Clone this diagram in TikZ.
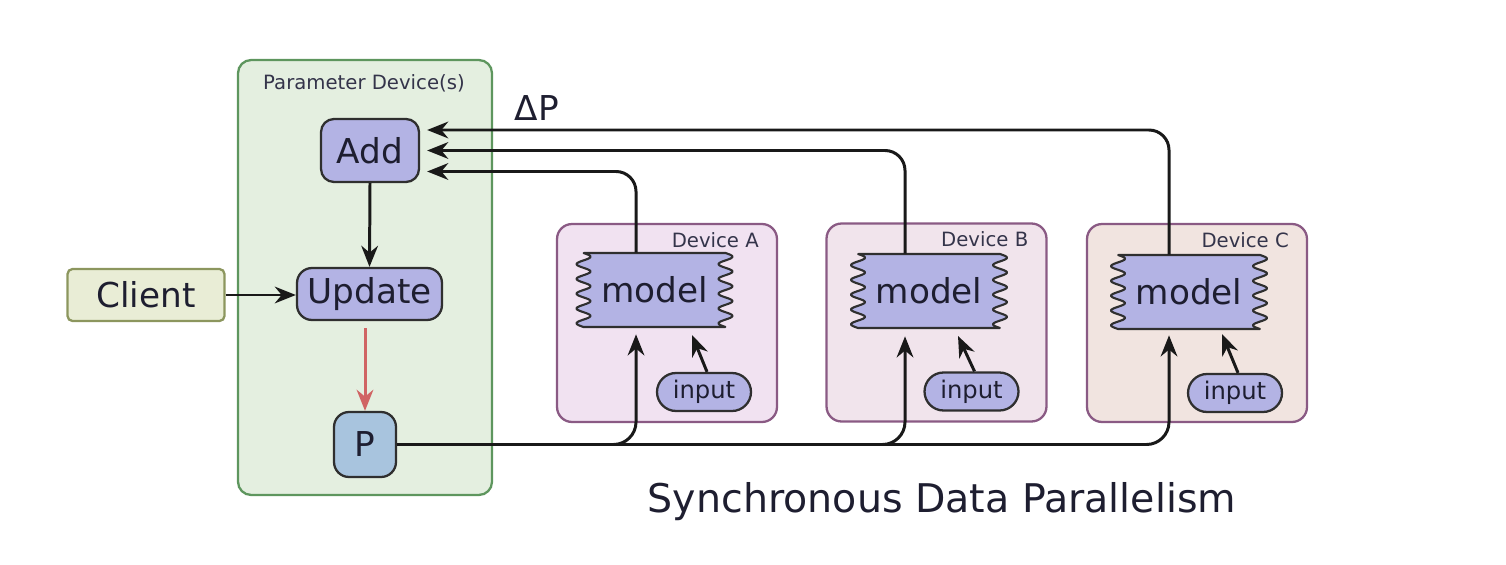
\documentclass[tikz,border=0pt]{standalone}
\usepackage{fontspec}
\setmainfont{DejaVu Sans}
\usetikzlibrary{arrows.meta}
\pgfdeclarelayer{bg}\pgfdeclarelayer{mid}\pgfsetlayers{bg,mid,main}
\definecolor{paramfill}{HTML}{E4EFE0}
\definecolor{paramline}{HTML}{5E965E}
\definecolor{lav}{HTML}{B3B3E4}
\definecolor{pblue}{HTML}{A8C4DE}
\definecolor{clientfill}{HTML}{E9EDD6}
\definecolor{clientline}{HTML}{8C965E}
\definecolor{devAfill}{HTML}{F1E2F1}
\definecolor{devBfill}{HTML}{F1E4EC}
\definecolor{devCfill}{HTML}{F1E4E0}
\definecolor{devline}{HTML}{8A5A84}
\definecolor{redc}{HTML}{D06464}
\definecolor{nodeline}{HTML}{2F2F2F}
\definecolor{txt}{HTML}{1E1E30}
\definecolor{lbl}{HTML}{34344A}
\newcommand\fsBig{\fontsize{19.5}{23}\selectfont}
\newcommand\fsMid{\fontsize{13.8}{16}\selectfont}
\newcommand\fsSmall{\fontsize{11.2}{13}\selectfont}
\newcommand\fsTitle{\fontsize{22.5}{27}\selectfont}
\begin{document}
\begin{tikzpicture}[x=0.02cm,y=-0.02cm,
  box/.style={draw=nodeline, line width=1.3pt, fill=lav, rounded corners=0.26cm,
    inner sep=0pt, font=\fsBig, text=txt},
  modeltext/.style={font=\fsBig, text=txt, minimum width=3.0cm, minimum height=1.48cm, inner sep=0pt},
  modelshape/.style={draw=nodeline, line width=1.2pt, fill=lav, line join=round},
  inbox/.style={box, font=\fsMid, minimum width=1.88cm, minimum height=0.76cm, rounded corners=0.38cm},
  devbox/.style={draw=devline, line width=1.3pt, rounded corners=0.3cm,
    minimum width=4.4cm, minimum height=3.96cm, inner sep=0pt},
  devlabel/.style={font=\fsSmall, text=lbl, inner sep=0pt, anchor=north east},
  conn/.style={line width=1.7pt, color=black!90, -{Stealth[length=12pt,width=9.5pt]}}
]
\useasboundingbox (0,0) rectangle (1506,564);

% containers
\begin{pgfonlayer}{bg}
\node[draw=paramline, fill=paramfill, line width=1.3pt, rounded corners=0.26cm,
  minimum width=5.08cm, minimum height=8.7cm, inner sep=0pt] (param) at (365,277.5) {};
\node[devbox, fill=devAfill] (devA) at (667,323) {};
\node[devbox, fill=devBfill] (devB) at (936.5,322.5) {};
\node[devbox, fill=devCfill] (devC) at (1197,323) {};
\end{pgfonlayer}

\node[font=\fsSmall, text=lbl, inner sep=0pt] (plabel) at (364,83) {Parameter Device(s)};
\node[devlabel] (labA) at ([xshift=-0.38cm,yshift=-0.18cm]devA.north east) {Device A};
\node[devlabel] (labB) at ([xshift=-0.38cm,yshift=-0.18cm]devB.north east) {Device B};
\node[devlabel] (labC) at ([xshift=-0.38cm,yshift=-0.18cm]devC.north east) {Device C};

% parameter device nodes
\node[box, minimum width=1.96cm, minimum height=1.26cm] (add) at (370,150.5) {Add};
\node[box, minimum width=2.9cm, minimum height=1.04cm, rounded corners=0.3cm] (upd) at (369.5,294) {Update};
\node[box, fill=pblue, minimum width=1.24cm, minimum height=1.3cm, rounded corners=0.3cm] (P) at (365,444.5) {P};
\node[box, fill=clientfill, draw=clientline, rounded corners=0.1cm,
  minimum width=3.14cm, minimum height=1.04cm] (client) at (146,295) {Client};

% models
\node[modeltext] (mA) at (654.5,290) {model};
\node[modeltext] (mB) at (929,291) {model};
\node[modeltext] (mC) at (1189,292) {model};
\begin{pgfonlayer}{mid}
\foreach \m in {mA,mB,mC}{
  \begin{scope}[shift={(\m.center)}, x=1cm, y=1cm]
  \path[modelshape] (-1.35,0.74) -- (1.35,0.74)
    -- plot[domain=0.74:-0.74, samples=91, variable=\t] ({1.42+0.14*sin(\t/0.296*360)}, \t)
    -- (-1.35,-0.74)
    -- plot[domain=-0.74:0.74, samples=91, variable=\t] ({-1.42+0.14*sin(\t/0.296*360)}, \t)
    -- cycle;
  \end{scope}
}
\end{pgfonlayer}

% inputs
\node[inbox] (inA) at (704,392) {input};
\node[inbox] (inB) at (971.5,391.5) {input};
\node[inbox] (inC) at (1235,393) {input};

% labels
\node[font=\fsBig, text=txt, inner sep=0pt] (dP) at (537,108) {ΔP};
\node[font=\fsTitle, text=txt, inner sep=0pt, anchor=base] (title) at (942,512) {Synchronous Data Parallelism};

% coordinates
\coordinate (vA) at (636,0);
\coordinate (vB) at (905,0);
\coordinate (vC) at (1169,0);
\coordinate (tA) at (692,335);
\coordinate (tB) at (958,336);
\coordinate (tC) at (1222,334);

% internal parameter flow
\draw[conn] (add.south) -- (upd.north);
\draw[conn] (client.east) -- (client.east -| upd.west);
\draw[conn, color=redc, shorten <=0.14cm] (P.north |- upd.south) -- (P.north);

% P to models
\draw[conn, rounded corners=0.45cm, shorten >=0.14cm] (P.east) -| (vA |- mA.south);
\draw[conn, rounded corners=0.45cm, shorten >=0.16cm] (P.east) -| (vB |- mB.south);
\draw[conn, rounded corners=0.45cm, shorten >=0.12cm] (P.east) -| (vC |- mC.south);

% models to Add
\draw[conn, rounded corners=0.4cm, shorten >=0.14cm] (vA |- mA.north) |- ([yshift=-0.42cm]add.east);
\draw[conn, rounded corners=0.4cm, shorten >=0.14cm] (vB |- mB.north) |- (add.east);
\draw[conn, rounded corners=0.4cm, shorten >=0.14cm] (vC |- mC.north) |- ([yshift=0.41cm]add.east);

% inputs to models
\draw[conn] ([xshift=0.06cm]inA.north) -- (tA);
\draw[conn] ([xshift=0.06cm]inB.north) -- (tB);
\draw[conn] ([xshift=0.06cm]inC.north) -- (tC);
\end{tikzpicture}
\end{document}
